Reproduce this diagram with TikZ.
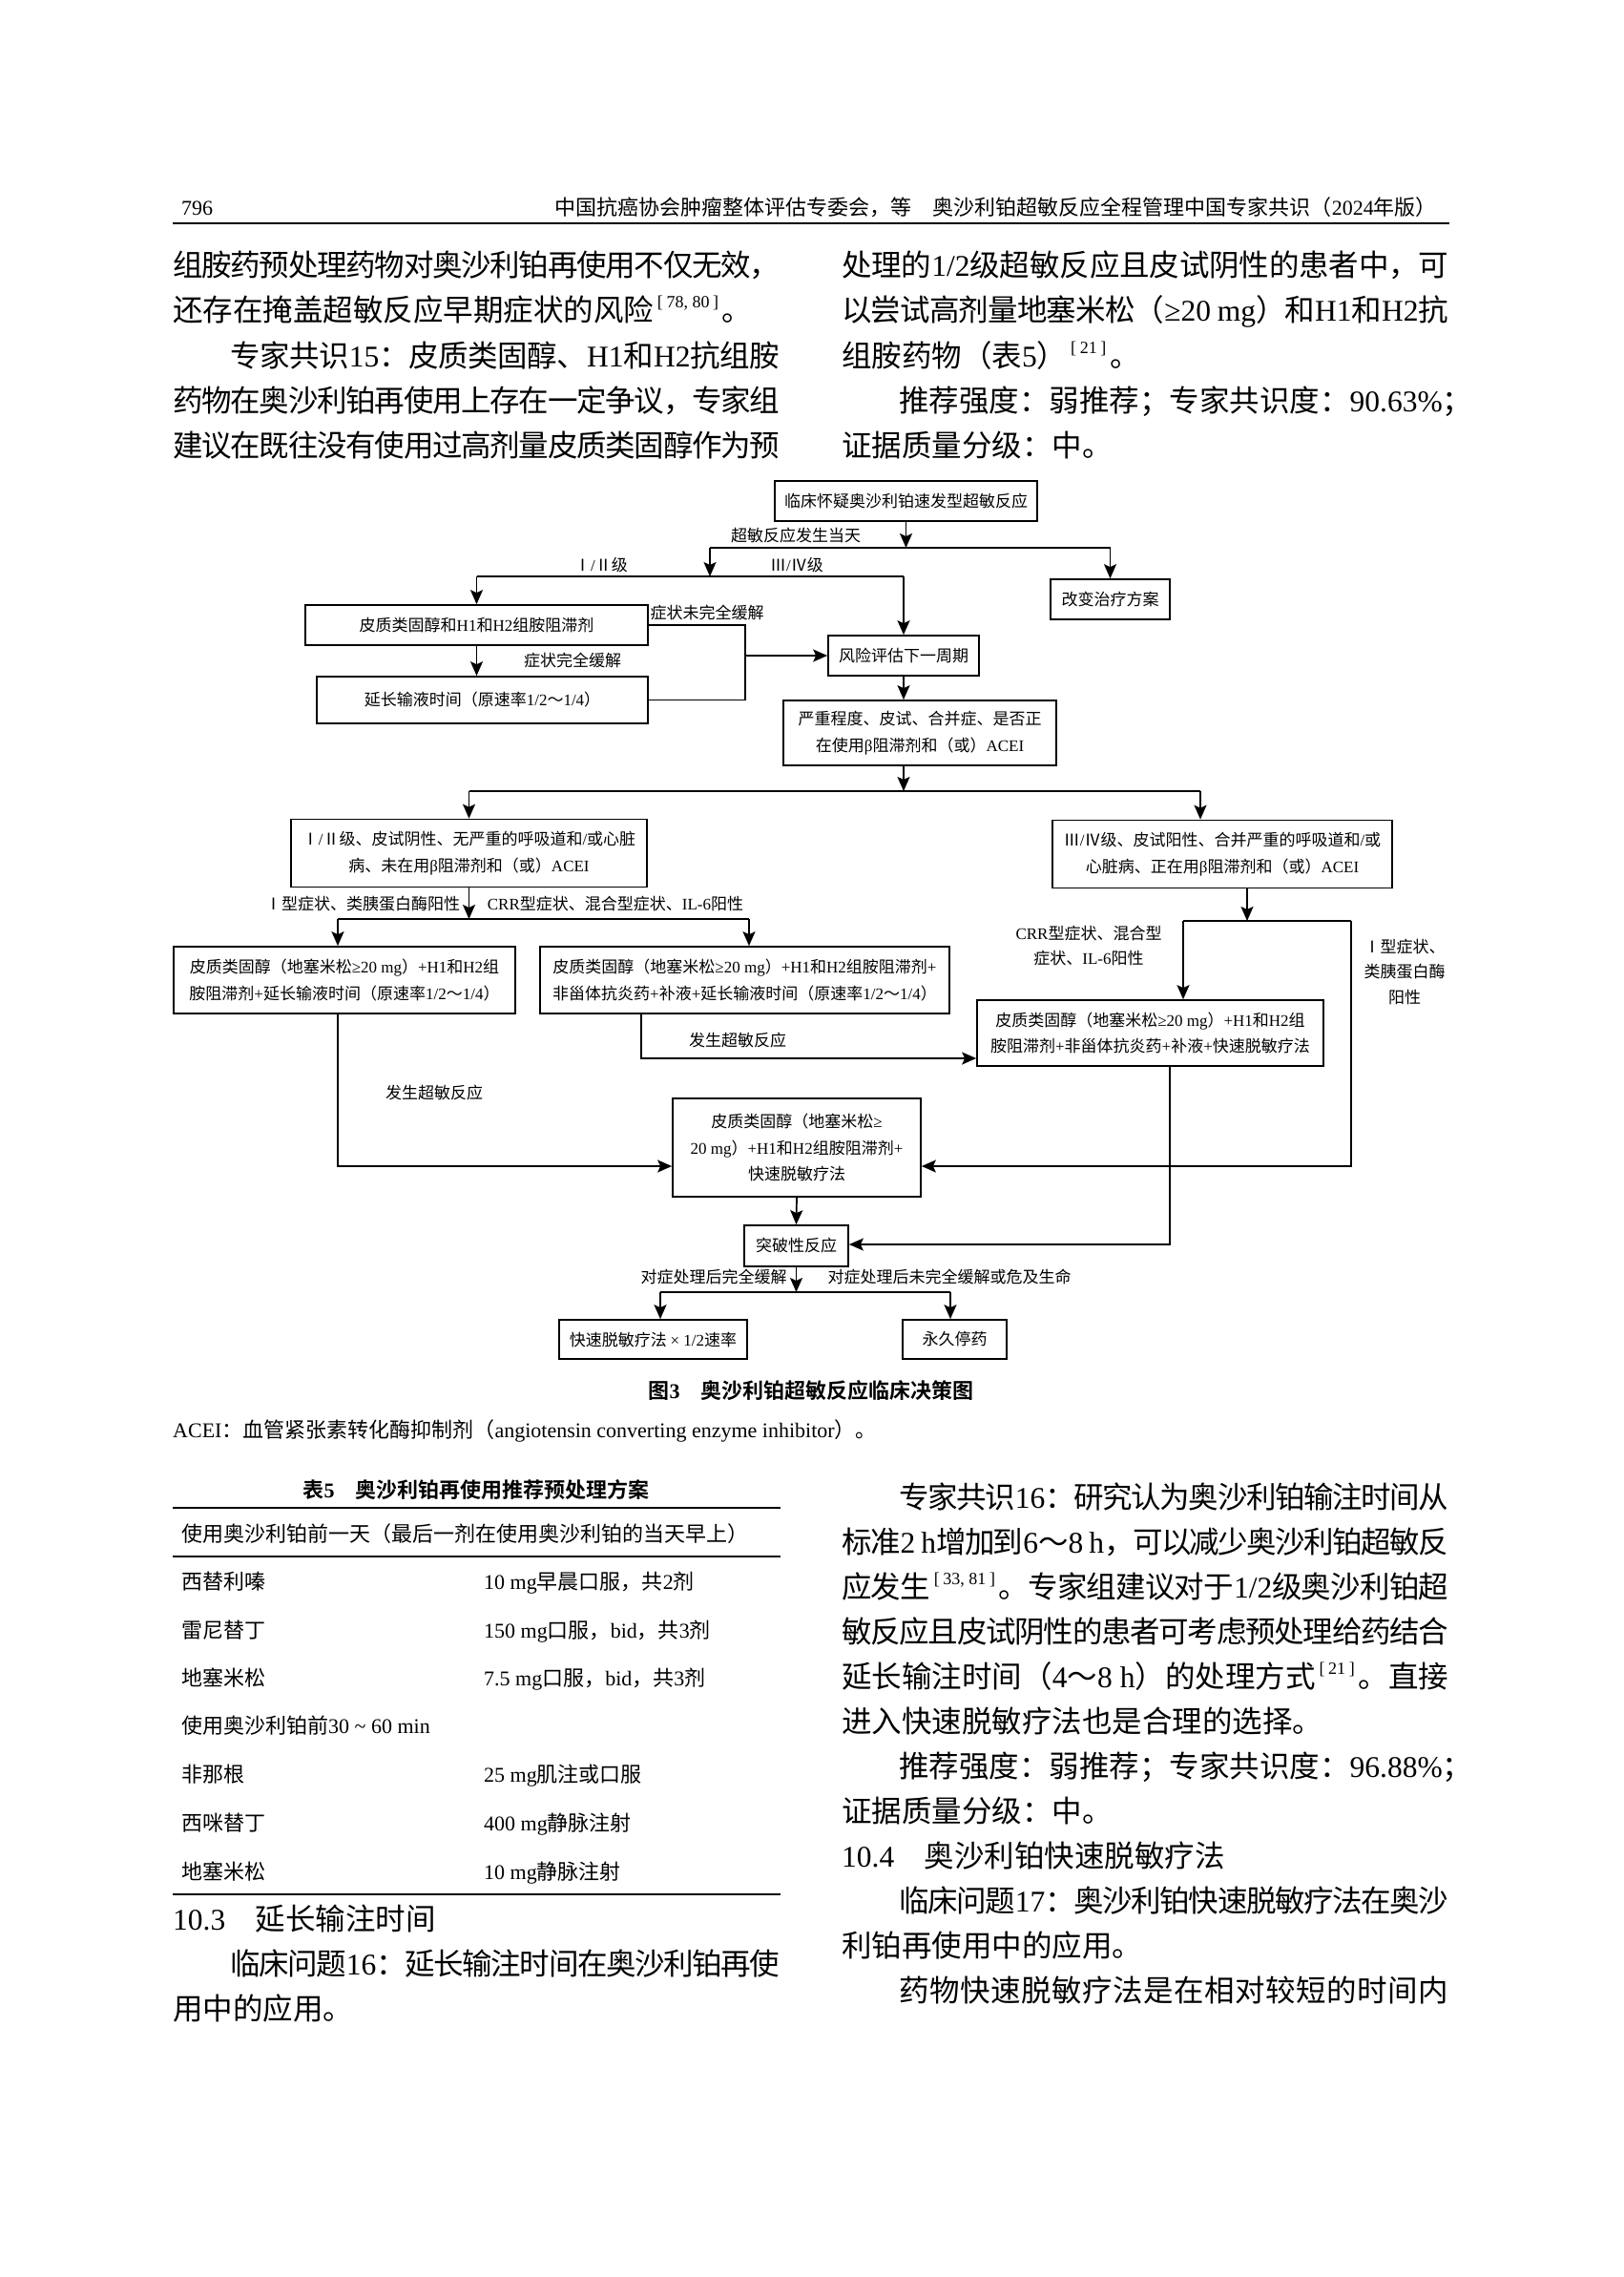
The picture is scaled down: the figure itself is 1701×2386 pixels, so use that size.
\documentclass[tikz,border=0pt]{standalone}
\usepackage{fontspec}
\usetikzlibrary{arrows.meta}
\setmainfont{Liberation Serif}
\newfontfamily\cjkfont[BoldFont={Noto Sans CJK SC Bold}]{Noto Sans CJK SC}
% 中文字符自动换用中文字体
\XeTeXinterchartokenstate=1
\newXeTeXintercharclass\cjkclass
\makeatletter
\newcommand\cjkrange[2]{\count@=#1\relax
  \loop\XeTeXcharclass\count@=\cjkclass
  \ifnum\count@<#2\relax\advance\count@\@ne\repeat}
\makeatother
\cjkrange{"2160}{"217F}
\cjkrange{"3000}{"303F}
\cjkrange{"4E00}{"9FFF}
\cjkrange{"FF00}{"FFEF}
\XeTeXinterchartoks 0 \cjkclass = {\cjkfont}
\XeTeXinterchartoks 4095 \cjkclass = {\cjkfont}
\XeTeXinterchartoks \cjkclass 0 = {\rmfamily}
\XeTeXinterchartoks 4095 0 = {\rmfamily}
\XeTeXinterchartoks \cjkclass \cjkclass = {\hskip 0pt plus 3pt minus 2pt\relax}
\newcommand\jus[1]{\makebox[636pt][s]{#1}}
\newcommand\refsup[1]{\hspace{0.12em}\raisebox{0.42em}{\fontsize{18pt}{18pt}\selectfont[\hspace{0.2em}#1\hspace{0.2em}]}\hspace{0.12em}}
\begin{document}
\begin{tikzpicture}[x=1pt, y=-1pt,
    body/.style={inner sep=0pt, anchor=base west, font=\fontsize{31.5pt}{31.5pt}\selectfont},
    tab/.style={inner sep=0pt, anchor=base west, font=\fontsize{22pt}{22pt}\selectfont},
    box/.style={draw, line width=1.7pt, inner sep=0pt, align=center, font=\fontsize{17pt}{27.5pt}\selectfont},
    lab/.style={inner sep=0pt, align=center, font=\fontsize{17pt}{26.5pt}\selectfont},
    ln/.style={line width=1.7pt},
    arr/.style={line width=1.7pt, -{Stealth[length=15pt, width=13pt, inset=3pt]}}]
    \useasboundingbox (0,0) rectangle (1701,2386);

    % 页眉
    \node[tab] (pg) at (190,225) {796};
    \node[tab, anchor=base east] (hd) at (1506,225) {中国抗癌协会肿瘤整体评估专委会，等　奥沙利铂超敏反应全程管理中国专家共识（2024年版）};
    \draw[line width=1.5pt] (181,234) -- (1519,234);

    % 正文上部
    \node[body] (a1) at (181,289) {\jus{组胺药预处理药物对奥沙利铂再使用不仅无效，}};
    \node[body] (a2) at (181,336) {还存在掩盖超敏反应早期症状的风险\refsup{78, 80}。};
    \node[body] (a3) at (181,384) {\jus{\hspace*{60pt}专家共识15：皮质类固醇、H1和H2抗组胺}};
    \node[body] (a4) at (181,431) {\jus{药物在奥沙利铂再使用上存在一定争议，专家组}};
    \node[body] (a5) at (181,478) {\jus{建议在既往没有使用过高剂量皮质类固醇作为预}};
    \node[body] (b1) at (882,289) {\jus{处理的1/2级超敏反应且皮试阴性的患者中，可}};
    \node[body] (b2) at (882,336) {\jus{以尝试高剂量地塞米松（≥20 mg）和H1和H2抗}};
    \node[body] (b3) at (882,384) {组胺药物（表5）\refsup{21}。};
    \node[body] (b4) at (882,431) {\hspace*{60pt}推荐强度：弱推荐；专家共识度：90.63\%；};
    \node[body] (b5) at (882,478) {证据质量分级：中。};

    % 流程图方框
    \node[box, minimum width=275pt, minimum height=42pt] (top) at (949.5,525) {临床怀疑奥沙利铂速发型超敏反应};
    \node[box, minimum width=125pt, minimum height=42pt] (change) at (1163.5,628) {改变治疗方案};
    \node[box, minimum width=359pt, minimum height=42pt] (steroid) at (499.5,655) {皮质类固醇和H1和H2组胺阻滞剂};
    \node[box, minimum width=347pt, minimum height=49pt] (prolong) at (505.5,733.5) {延长输液时间（原速率1/2～1/4）};
    \node[box, minimum width=158pt, minimum height=42pt] (risk) at (947,687) {风险评估下一周期};
    \node[box, minimum width=286pt, minimum height=68pt] (assess) at (964,768) {严重程度、皮试、合并症、是否正\\在使用β阻滞剂和（或）ACEI};
    \node[box, minimum width=373pt, minimum height=71pt] (gradeL) at (491.5,894) {Ⅰ/Ⅱ级、皮试阴性、无严重的呼吸道和/或心脏\\病、未在用β阻滞剂和（或）ACEI};
    \node[box, minimum width=356pt, minimum height=71pt] (gradeR) at (1281,895) {Ⅲ/Ⅳ级、皮试阳性、合并严重的呼吸道和/或\\心脏病、正在用β阻滞剂和（或）ACEI};
    \node[box, minimum width=358pt, minimum height=70pt] (treatL) at (361,1027) {皮质类固醇（地塞米松≥20 mg）+H1和H2组\\胺阻滞剂+延长输液时间（原速率1/2～1/4）};
    \node[box, minimum width=429pt, minimum height=70pt] (treatM) at (780.5,1027) {皮质类固醇（地塞米松≥20 mg）+H1和H2组胺阻滞剂+\\非甾体抗炎药+补液+延长输液时间（原速率1/2～1/4）};
    \node[box, minimum width=363pt, minimum height=69pt] (treatR) at (1205.5,1082.5) {皮质类固醇（地塞米松≥20 mg）+H1和H2组\\胺阻滞剂+非甾体抗炎药+补液+快速脱敏疗法};
    \node[box, minimum width=260pt, minimum height=103pt] (desens) at (835,1202.5) {皮质类固醇（地塞米松≥\\20 mg）+H1和H2组胺阻滞剂+\\快速脱敏疗法};
    \node[box, minimum width=109pt, minimum height=43pt] (brk) at (834.5,1305.5) {突破性反应};
    \node[box, minimum width=197pt, minimum height=41pt] (fast) at (684.5,1403.5) {快速脱敏疗法 × 1/2速率};
    \node[box, minimum width=109pt, minimum height=41pt] (stop) at (1000.5,1403.5) {永久停药};

    % 连线的折点
    \coordinate (j1) at (744,574);
    \coordinate (j2) at (744,604);
    \coordinate (k1) at (781,655);
    \coordinate (j3) at (947,829);
    \coordinate (j3R) at (1258,829);
    \coordinate (j4L) at (354,963);
    \coordinate (j4R) at (785,963);
    \coordinate (j5) at (1307,965);
    \coordinate (j5L) at (1240,965);
    \coordinate (j5R) at (1416,965);
    \coordinate (j6) at (0,1222);
    \coordinate (j7) at (672,1109);
    \coordinate (j8) at (1226,1304);
    \coordinate (j9L) at (692,1354);
    \coordinate (j9R) at (996,1354);

    % 超敏反应发生当天
    \draw[arr] (top.south) -- (top.south |- j1);
    \draw[ln] (j1) -- (j1 -| change);
    \draw[arr] (j1 -| change) -- (change.north);
    \draw[arr] (j1) -- (j2);
    \draw[ln] (j2 -| steroid) -- (j2 -| risk);
    \draw[arr] (j2 -| steroid) -- (steroid.north);
    \draw[arr] (j2 -| risk) -- (risk.north);
    \draw[ln] (steroid.east) -| (k1 |- prolong.east) -- (prolong.east);
    \draw[arr] (k1 |- risk.west) -- (risk.west);
    \draw[arr] (steroid.south) -- (steroid.south |- prolong.north);

    % 下一周期
    \draw[arr] (risk.south) -- (risk.south |- assess.north);
    \draw[arr] (j3 |- assess.south) -- (j3);
    \draw[ln] (j3 -| gradeL) -- (j3R);
    \draw[arr] (j3 -| gradeL) -- (gradeL.north);
    \draw[arr] (j3R) -- (j3R |- gradeR.north);

    % 左支
    \draw[arr] (gradeL.south) -- (gradeL.south |- j4L);
    \draw[ln] (j4L) -- (j4R);
    \draw[arr] (j4L) -- (j4L |- treatL.north);
    \draw[arr] (j4R) -- (j4R |- treatM.north);
    \draw[arr] (j4L |- treatL.south) -- (j4L |- j6) -- (desens.west |- j6);
    \draw[arr] (j7 |- treatM.south) -- (j7) -- (treatR.west |- j7);

    % 右支
    \draw[arr] (j5 |- gradeR.south) -- (j5);
    \draw[ln] (j5L) -- (j5R);
    \draw[arr] (j5L) -- (j5L |- treatR.north);
    \draw[arr] (j5R) -- (j5R |- j6) -- (desens.east |- j6);
    \draw[arr] (j8 |- treatR.south) -- (j8) -- (brk.east |- j8);

    % 突破性反应
    \draw[arr] (desens.south) -- (brk.north);
    \draw[arr] (brk.south) -- (brk.south |- j9L);
    \draw[ln] (j9L) -- (j9R);
    \draw[arr] (j9L) -- (j9L |- fast.north);
    \draw[arr] (j9R) -- (j9R |- stop.north);

    % 连线上的文字
    \node[lab] (l1) at (834,561) {超敏反应发生当天};
    \node[lab] (l2) at (630,592) {Ⅰ/Ⅱ级};
    \node[lab] (l3) at (835,592) {Ⅲ/Ⅳ级};
    \node[lab] (l4) at (741,642) {症状未完全缓解};
    \node[lab] (l5) at (600,692) {症状完全缓解};
    \node[lab] (l6) at (380,947) {Ⅰ型症状、类胰蛋白酶阳性};
    \node[lab] (l7) at (645,947) {CRR型症状、混合型症状、IL-6阳性};
    \node[lab] (l8) at (1141,991) {CRR型症状、混合型\\症状、IL-6阳性};
    \node[lab] (l9) at (1472,1018) {Ⅰ型症状、\\类胰蛋白酶\\阳性};
    \node[lab] (l10) at (773,1090) {发生超敏反应};
    \node[lab] (l11) at (455,1145) {发生超敏反应};
    \node[lab] (l12) at (748,1338) {对症处理后完全缓解};
    \node[lab] (l13) at (995,1338) {对症处理后未完全缓解或危及生命};

    % 图题与注
    \node[tab, anchor=base, font=\fontsize{22pt}{22pt}\selectfont\bfseries] (cap) at (850,1465) {图3\hspace{1em}奥沙利铂超敏反应临床决策图};
    \node[tab] (note) at (181,1506) {ACEI：血管紧张素转化酶抑制剂（angiotensin converting enzyme inhibitor）。};

    % 表5
    \node[tab, anchor=base, font=\fontsize{22pt}{22pt}\selectfont\bfseries] (tcap) at (499,1569) {表5\hspace{1em}奥沙利铂再使用推荐预处理方案};
    \draw[line width=2pt] (181,1580) -- (818,1580);
    \node[tab] (t0) at (190,1615) {使用奥沙利铂前一天（最后一剂在使用奥沙利铂的当天早上）};
    \draw[line width=1.2pt] (181,1631) -- (818,1631);
    \foreach \y/\drug/\dose [count=\i] in {1665/西替利嗪/10 mg早晨口服，共2剂, 1716/雷尼替丁/150 mg口服，bid，共3剂, 1766/地塞米松/7.5 mg口服，bid，共3剂, 1867/非那根/25 mg肌注或口服, 1918/西咪替丁/400 mg静脉注射, 1969/地塞米松/10 mg静脉注射} {
        \node[tab] (d\i) at (190,\y) {\drug};
        \node[tab] (s\i) at (507,\y) {\dose};
    }
    \node[tab] (t1) at (190,1816) {使用奥沙利铂前30 \textasciitilde{} 60 min};
    \draw[line width=2pt] (181,1985) -- (818,1985);

    % 正文下部
    \node[body] (c1) at (181,2022) {10.3\hspace{1em}延长输注时间};
    \node[body] (c2) at (181,2069) {\jus{\hspace*{60pt}临床问题16：延长输注时间在奥沙利铂再使}};
    \node[body] (c3) at (181,2116) {用中的应用。};
    \node[body] (e1) at (882,1580) {\jus{\hspace*{60pt}专家共识16：研究认为奥沙利铂输注时间从}};
    \node[body] (e2) at (882,1627) {\jus{标准2 h增加到6～8 h，可以减少奥沙利铂超敏反}};
    \node[body] (e3) at (882,1674) {\jus{应发生\refsup{33, 81}。专家组建议对于1/2级奥沙利铂超}};
    \node[body] (e4) at (882,1721) {\jus{敏反应且皮试阴性的患者可考虑预处理给药结合}};
    \node[body] (e5) at (882,1768) {\jus{延长输注时间（4～8 h）的处理方式\refsup{21}。直接}};
    \node[body] (e6) at (882,1815) {进入快速脱敏疗法也是合理的选择。};
    \node[body] (e7) at (882,1862) {\hspace*{60pt}推荐强度：弱推荐；专家共识度：96.88\%；};
    \node[body] (e8) at (882,1909) {证据质量分级：中。};
    \node[body] (e9) at (882,1956) {10.4\hspace{1em}奥沙利铂快速脱敏疗法};
    \node[body] (e10) at (882,2003) {\jus{\hspace*{60pt}临床问题17：奥沙利铂快速脱敏疗法在奥沙}};
    \node[body] (e11) at (882,2050) {利铂再使用中的应用。};
    \node[body] (e12) at (882,2097) {\jus{\hspace*{60pt}药物快速脱敏疗法是在相对较短的时间内}};
\end{tikzpicture}
\end{document}
